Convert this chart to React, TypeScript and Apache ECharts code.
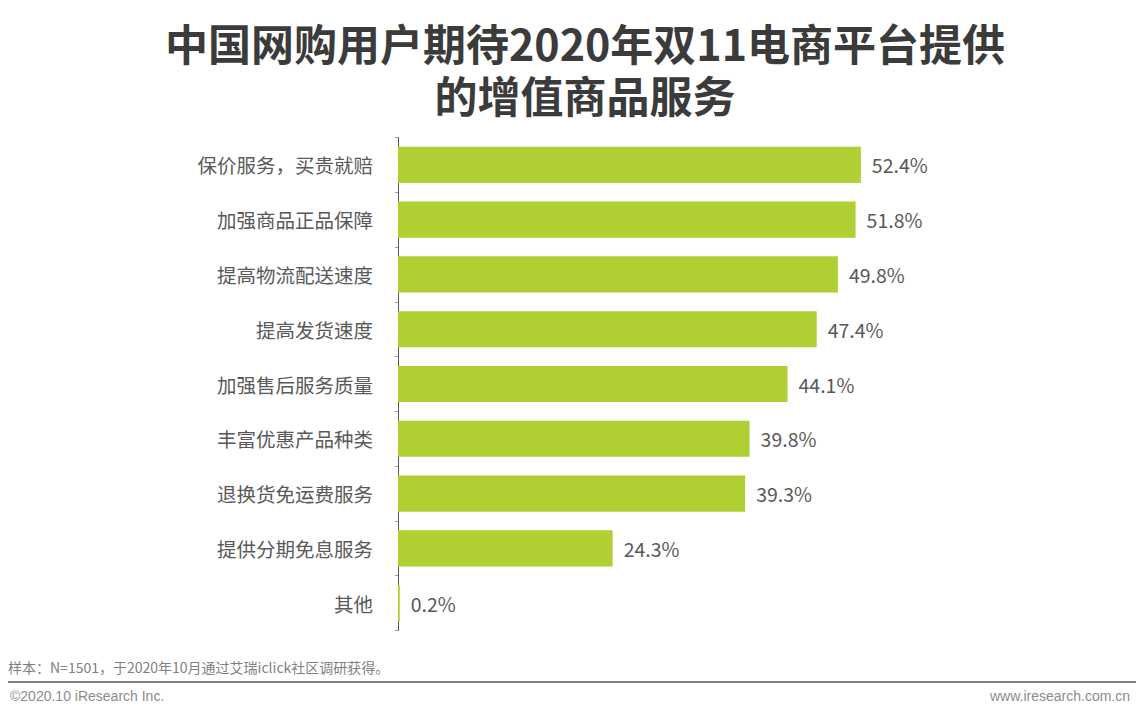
import React, { useEffect, useRef } from "react";
import * as echarts from "echarts";

const categories = [
  "保价服务，买贵就赔",
  "加强商品正品保障",
  "提高物流配送速度",
  "提高发货速度",
  "加强售后服务质量",
  "丰富优惠产品种类",
  "退换货免运费服务",
  "提供分期免息服务",
  "其他",
];
const values = [52.4, 51.8, 49.8, 47.4, 44.1, 39.8, 39.3, 24.3, 0.2];

const titleLines = ["中国网购用户期待2020年双11电商平台提供", "的增值商品服务"];
const noteText = "样本：N=1501，于2020年10月通过艾瑞iclick社区调研获得。";
const copyrightText = "©2020.10 iResearch Inc.";
const siteText = "www.iresearch.com.cn";

export default function App() {
  const ref = useRef<HTMLDivElement>(null);
  useEffect(() => {
    if (!ref.current) return;
    const chart = echarts.init(ref.current, undefined, { renderer: "svg" });
    const cjk = '"Noto Sans CJK SC", "Noto Sans", sans-serif';
    const latin = '"Liberation Sans", Arial, sans-serif';
    chart.setOption({
      animation: false,
      backgroundColor: "#ffffff",
      grid: { left: 398, width: 530, top: 137.5, height: 493 },
      xAxis: {
        type: "value",
        min: 0,
        max: 60,
        show: false,
      },
      yAxis: {
        type: "category",
        data: categories,
        inverse: true,
        axisLine: { show: true, lineStyle: { color: "#595959", width: 1 } },
        axisTick: { show: true, length: 3, lineStyle: { color: "#a0a0a0" } },
        axisLabel: {
          margin: 25,
          fontSize: 19.5,
          color: "#595959",
          fontFamily: cjk,
        },
        splitLine: { show: false },
      },
      series: [
        {
          type: "bar",
          data: values,
          barCategoryGap: "34%",
          itemStyle: { color: "#afcf33" },
          label: {
            show: true,
            position: "right",
            distance: 11,
            fontSize: 19.5,
            color: "#595959",
            fontFamily: cjk,
            formatter: (p: any) => p.value.toFixed(1) + "%",
          },
        },
      ],
      graphic: [
        {
          type: "text",
          x: 585,
          y: 16,
          style: {
            text: titleLines.join("\n"),
            fontSize: 43,
            lineHeight: 52,
            fontWeight: "bold",
            fill: "#3b3b3b",
            fontFamily: cjk,
            textAlign: "center",
            textVerticalAlign: "top",
          },
        },
        {
          type: "text",
          left: 8,
          top: 660,
          style: {
            text: noteText,
            fontSize: 14,
            fill: "#7f7f7f",
            fontFamily: cjk,
          },
        },
        {
          type: "line",
          shape: { x1: 8, y1: 682, x2: 1136, y2: 682 },
          style: { stroke: "#7f7f7f", lineWidth: 2 },
        },
        {
          type: "text",
          left: 10,
          top: 689,
          style: {
            text: copyrightText,
            fontSize: 14,
            fill: "#8c8c8c",
            fontFamily: latin,
          },
        },
        {
          type: "text",
          right: 6,
          top: 689,
          style: {
            text: siteText,
            fontSize: 14,
            fill: "#8c8c8c",
            fontFamily: latin,
          },
        },
      ],
    });
    return () => chart.dispose();
  }, []);
  return (
    <div
      ref={ref}
      style={{ position: "fixed", left: 0, top: 0, width: 1136, height: 719 }}
    />
  );
}
